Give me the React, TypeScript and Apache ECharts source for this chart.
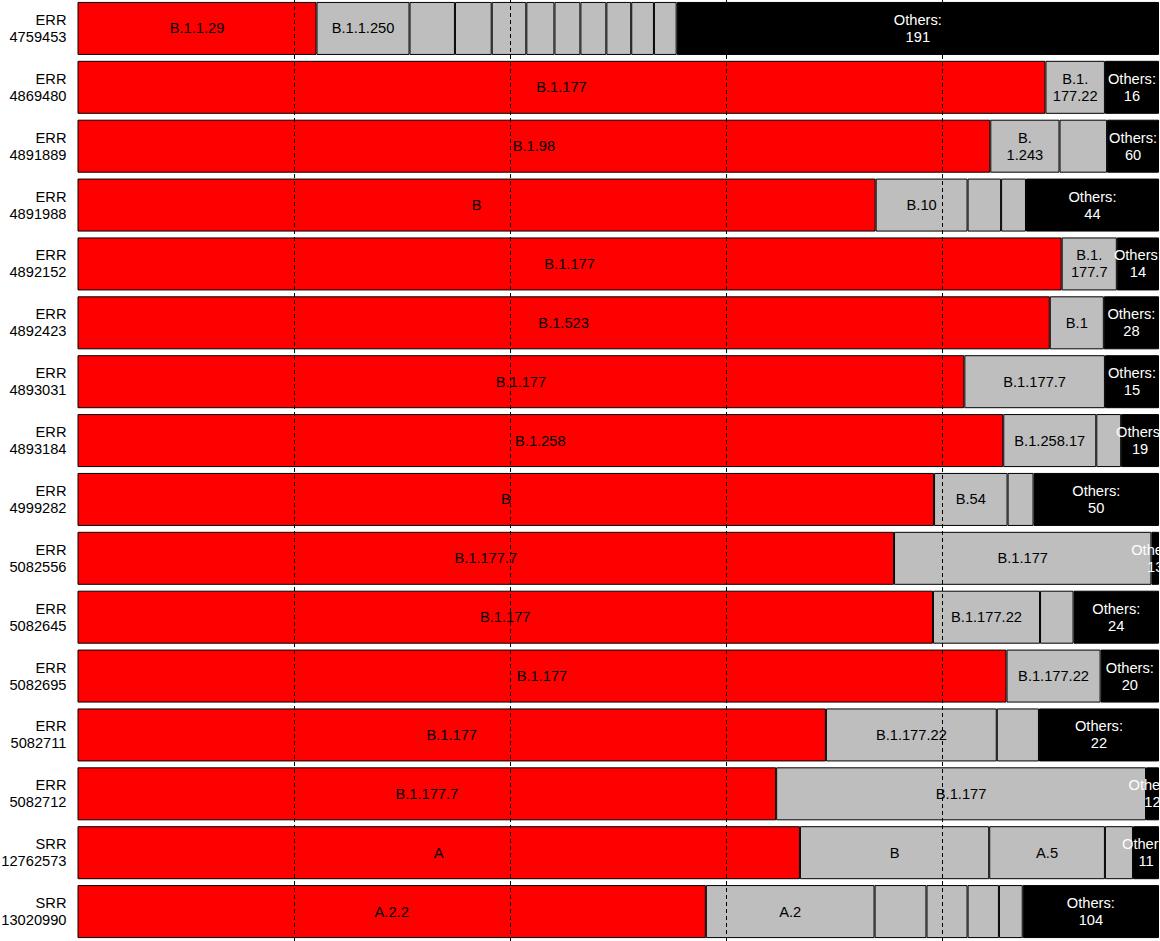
import React, { useEffect, useRef } from 'react';
import * as echarts from 'echarts';

// sequencing runs, top to bottom
const runs = [
  'ERR4759453', 'ERR4869480', 'ERR4891889', 'ERR4891988',
  'ERR4892152', 'ERR4892423', 'ERR4893031', 'ERR4893184',
  'ERR4999282', 'ERR5082556', 'ERR5082645', 'ERR5082695',
  'ERR5082711', 'ERR5082712', 'SRR12762573', 'SRR13020990',
];

// named lineages per run (the last share of each row is "Others")
const lineageNames: string[][] = [
  ['B.1.1.29', 'B.1.1.250', '', '', '', '', '', '', '', '', ''],
  ['B.1.177', 'B.1.177.22'],
  ['B.1.98', 'B.1.243', ''],
  ['B', 'B.10', '', ''],
  ['B.1.177', 'B.1.177.7'],
  ['B.1.523', 'B.1'],
  ['B.1.177', 'B.1.177.7'],
  ['B.1.258', 'B.1.258.17', ''],
  ['B', 'B.54', ''],
  ['B.1.177.7', 'B.1.177'],
  ['B.1.177', 'B.1.177.22', ''],
  ['B.1.177', 'B.1.177.22'],
  ['B.1.177', 'B.1.177.22', ''],
  ['B.1.177.7', 'B.1.177'],
  ['A', 'B', 'A.5', ''],
  ['A.2.2', 'A.2', '', '', '', ''],
];

// share of reads in percent, last value = Others
const lineageShares: number[][] = [
  [22.1, 8.6, 4.2, 3.4, 3.2, 2.6, 2.4, 2.4, 2.3, 2.1, 2.1, 44.6],
  [89.5, 5.5, 5.0],
  [84.4, 6.4, 4.4, 4.8],
  [73.8, 8.5, 3.1, 2.3, 12.3],
  [91.0, 5.1, 3.9],
  [89.9, 5.0, 5.1],
  [82.0, 13.0, 5.0],
  [85.6, 8.6, 2.3, 3.5],
  [79.2, 6.8, 2.4, 11.6],
  [75.5, 23.8, 0.7],
  [79.1, 9.9, 3.1, 7.9],
  [85.9, 8.7, 5.4],
  [69.2, 15.8, 3.9, 11.1],
  [64.6, 34.2, 1.2],
  [66.8, 17.5, 10.7, 2.6, 2.4],
  [58.1, 15.6, 4.8, 3.8, 2.9, 2.2, 12.6],
];

// number of lineages lumped into "Others"
const othersCounts = [191, 16, 60, 44, 14, 28, 15, 19, 50, 13, 24, 20, 22, 12, 11, 104];

const FONT = '"Liberation Sans", Arial, Helvetica, sans-serif';
const FONT_SIZE = 14.67;
const CHART_W = 1160;
const CHART_H = 941;
const GRID_LEFT = 77.5;
const GRID_RIGHT = 1;
const PLOT_W = CHART_W - GRID_LEFT - GRID_RIGHT;

let measureCtx: CanvasRenderingContext2D | null = null;
const textWidth = (s: string) => {
  if (!measureCtx) measureCtx = document.createElement('canvas').getContext('2d');
  if (!measureCtx) return s.length * 8;
  measureCtx.font = `${FONT_SIZE}px ${FONT}`;
  return measureCtx.measureText(s).width;
};

// long names get split once at a dot, first line no longer than half the name
const wrapLineage = (name: string, segPx: number) => {
  if (!name || textWidth(name) <= segPx - 20) return name;
  let cut = -1;
  for (let i = 0; i < name.length; i++) {
    if (name[i] === '.' && i + 1 <= name.length / 2) cut = i + 1;
  }
  if (cut <= 0) return name;
  return name.slice(0, cut) + '\n' + name.slice(cut);
};

const App: React.FC = () => {
  const chartRef = useRef<HTMLDivElement>(null);

  useEffect(() => {
    document.body.style.margin = '0';
    if (!chartRef.current) return;
    const chart = echarts.init(chartRef.current, undefined, { renderer: 'svg' });

    const maxSegs = Math.max(...lineageShares.map((r) => r.length));
    const series: any[] = [];
    for (let k = 0; k < maxSegs; k++) {
      series.push({
        type: 'bar',
        stack: 'all',
        barWidth: 53,
        itemStyle: { borderColor: '#000', borderWidth: 1 },
        label: {
          show: true,
          position: 'inside',
          fontFamily: FONT,
          fontSize: FONT_SIZE,
          lineHeight: 17,
        },
        data: lineageShares.map((shares, r) => {
          if (k >= shares.length) return '-';
          const last = k === shares.length - 1;
          const color = k === 0 ? '#ff0000' : last ? '#000000' : '#bebebe';
          const segPx = (shares[k] / 100) * PLOT_W;
          const text = last
            ? `Others:\n${othersCounts[r]}`
            : wrapLineage(lineageNames[r][k], segPx);
          return {
            value: shares[k],
            itemStyle: { color },
            label: { show: text !== '', formatter: text, color: last ? '#ffffff' : '#000000' },
          };
        }),
      });
    }

    chart.setOption({
      animation: false,
      grid: {
        left: GRID_LEFT,
        right: GRID_RIGHT,
        top: -1,
        bottom: 0,
        containLabel: false,
        outerBoundsMode: 'none',
      },
      xAxis: {
        type: 'value',
        min: 0,
        max: 100,
        interval: 20,
        z: 10,
        axisLabel: { show: false },
        axisLine: { show: false },
        axisTick: { show: false },
        splitLine: {
          show: true,
          showMinLine: false,
          showMaxLine: false,
          lineStyle: { color: '#000', width: 1, type: [4, 3] },
        },
      },
      yAxis: {
        type: 'category',
        data: runs,
        inverse: true,
        axisLine: { show: false },
        axisTick: { show: false },
        axisLabel: {
          color: '#000',
          fontFamily: FONT,
          fontSize: FONT_SIZE,
          lineHeight: 17,
          margin: 11,
          formatter: (v: string) => v.replace(/^([A-Z]+)/, '$1\n'),
        },
      },
      series,
    });

    return () => {
      chart.dispose();
    };
  }, []);

  return <div ref={chartRef} style={{ width: `${CHART_W}px`, height: `${CHART_H}px` }} />;
};

export default App;
